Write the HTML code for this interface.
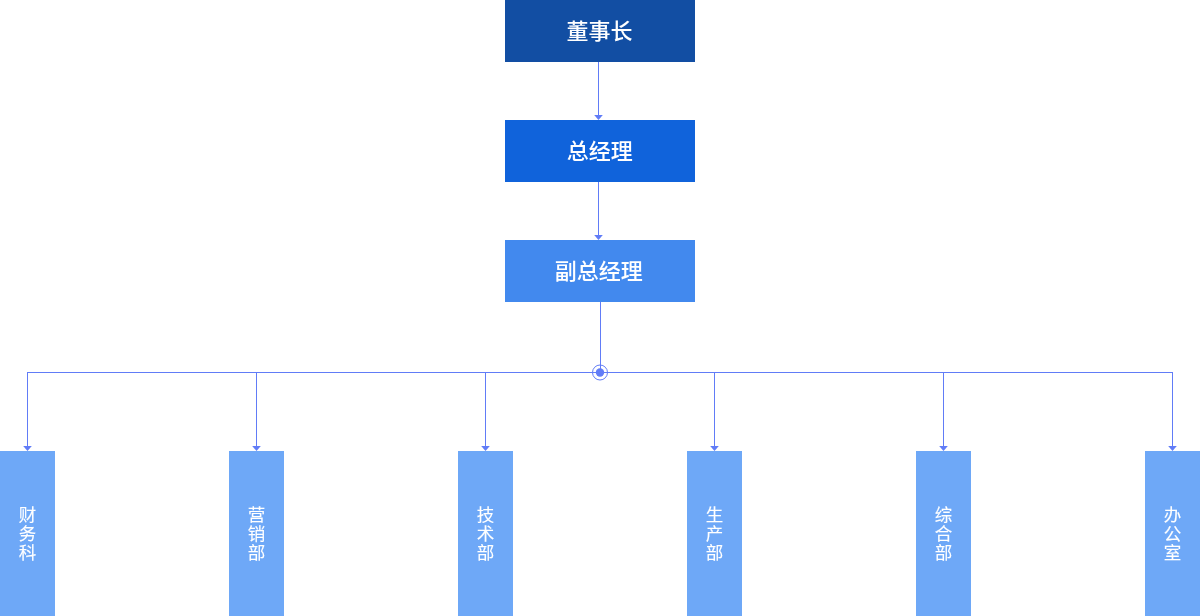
<!DOCTYPE html>
<html lang="zh-CN">
<head>
<meta charset="utf-8">
<title>组织架构</title>
<style>
html,body{margin:0;padding:0;background:#fff;}
body{width:1200px;height:616px;position:relative;overflow:hidden;
  font-family:"Liberation Sans","Noto Sans CJK SC",sans-serif;}
.chart{position:absolute;left:0;top:0;width:1200px;height:616px;}
.node span,.dept span{will-change:transform;}
.node{position:absolute;left:505px;width:190px;height:62px;line-height:62px;
  text-align:center;color:#fff;font-size:22px;font-weight:500;box-sizing:border-box;}
.dept{position:absolute;top:451px;width:55px;height:165px;background:#6ea8f7;
  color:#fff;font-size:17.5px;font-weight:400;text-align:center;padding-top:2px;box-sizing:border-box;
  display:flex;flex-direction:column;justify-content:center;align-items:center;}
.node span{position:relative;}
.dept span{display:block;width:1.2em;line-height:19px;word-break:break-all;position:relative;-webkit-text-stroke:0.12px #fff;}
svg.wires{position:absolute;left:0;top:0;}
</style>
</head>
<body>
<div class="chart">
<svg class="wires" width="1200" height="616" viewBox="0 0 1200 616">
  <g fill="none" stroke="#617cf7" stroke-width="1" shape-rendering="crispEdges">
    <path d="M598.5 62V116"/>
    <path d="M598.5 182V236"/>
    <path d="M600.5 302V372"/>
    <path d="M27.5 447V372.5H1172.5V447"/>
    <path d="M256.5 372V447"/>
    <path d="M485.5 372V447"/>
    <path d="M714.5 372V447"/>
    <path d="M943.5 372V447"/>
  </g>
  <g fill="#617cf7">
    <path d="M594.2 115h8.6l-4.3 5z"/>
    <path d="M594.2 235h8.6l-4.3 5z"/>
    <path d="M23.2 446h8.6l-4.3 5z"/>
    <path d="M252.2 446h8.6l-4.3 5z"/>
    <path d="M481.2 446h8.6l-4.3 5z"/>
    <path d="M710.2 446h8.6l-4.3 5z"/>
    <path d="M939.2 446h8.6l-4.3 5z"/>
    <path d="M1168.2 446h8.6l-4.3 5z"/>
  </g>
  <circle cx="600" cy="372.5" r="4.2" fill="#617cf7"/>
  <circle cx="600" cy="372.5" r="7.5" fill="none" stroke="#617cf7" stroke-width="1"/>
</svg>
<div class="node" style="top:0px;background:#124ea3"><span style="left:-0.5px;top:1.3px">董事长</span></div>
<div class="node" style="top:120px;background:#1063db"><span style="left:-0.3px;top:1.3px">总经理</span></div>
<div class="node" style="top:240px;background:#4289ee"><span style="left:-1.3px;top:1.3px">副总经理</span></div>
<div class="dept" style="left:0px"><span>财务科</span></div>
<div class="dept" style="left:229px"><span>营销部</span></div>
<div class="dept" style="left:458px"><span>技术部</span></div>
<div class="dept" style="left:687px"><span>生产部</span></div>
<div class="dept" style="left:916px"><span>综合部</span></div>
<div class="dept" style="left:1145px"><span>办公室</span></div>
</div>
</body>
</html>
